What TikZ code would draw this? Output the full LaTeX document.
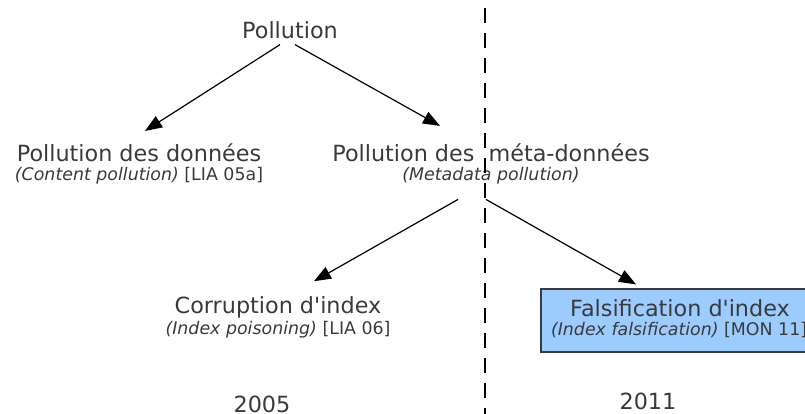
\documentclass[tikz,border=0pt]{standalone}
\usepackage{fontspec}
\setmainfont{DejaVu Sans}
\usepackage{tikz}
\usetikzlibrary{arrows.meta}

\definecolor{txtgray}{HTML}{3A3A3A}
\definecolor{boxblue}{HTML}{9CCBFF}

\begin{document}
\begin{tikzpicture}[x=1pt,y=-1pt,
  every node/.style={text=txtgray, inner sep=0pt, outer sep=0pt},
  titre/.style={font=\fontsize{22.3}{24}\selectfont},
  sous/.style={font=\fontsize{17.4}{19}\selectfont},
  fleche/.style={-{Triangle[length=17pt,width=13pt]}, line width=1.2pt}]
\useasboundingbox (0,0) rectangle (805,414);

\fill[boxblue, draw=txtgray, line width=1.2pt] (541,289) rectangle (812,352);

\node[titre] (pol) at (290,30) {Pollution};
\node[titre] (donnees) at (139,153) {Pollution des donn\'ees};
\node[sous] (donneessous) at (139,176) {\textit{(Content pollution)} [LIA 05a]};
\node[titre] (meta) at (491,153) {Pollution des\ \ m\'eta-donn\'ees};
\node[sous] (metasous) at (491,176) {\textit{(Metadata pollution)}};
\node[titre] (corruption) at (278,307) {Corruption d\textquotesingle index};
\node[sous] (corruptionsous) at (278,330) {\textit{(Index poisoning)} [LIA 06]};
\node[titre] (falsif) at (680,308) {Falsification d\textquotesingle index};
\node[sous, anchor=west] (falsifsous) at (551,330) {\textit{(Index falsification)} [MON 11]};
\node[titre] (annee1) at (262,404) {2005};
\node[titre] (annee2) at (648,401) {2011};

\draw[dash pattern=on 15pt off 10pt, line width=1.2pt] (485,8) -- (485,414);

\draw[fleche] ([xshift=-10pt,yshift=-6pt]pol.south) -- ([xshift=6pt,yshift=13pt]donnees.north);
\draw[fleche] ([xshift=5pt,yshift=-6pt]pol.south) -- ([xshift=-51pt,yshift=18pt]meta.north);
\draw[fleche] ([xshift=-33pt,yshift=-15pt]metasous.south) -- ([xshift=36pt,yshift=15pt]corruption.north);
\draw[fleche] ([xshift=-5pt,yshift=-15pt]metasous.south) -- ([xshift=-44pt,yshift=15pt]falsif.north);
\end{tikzpicture}
\end{document}
